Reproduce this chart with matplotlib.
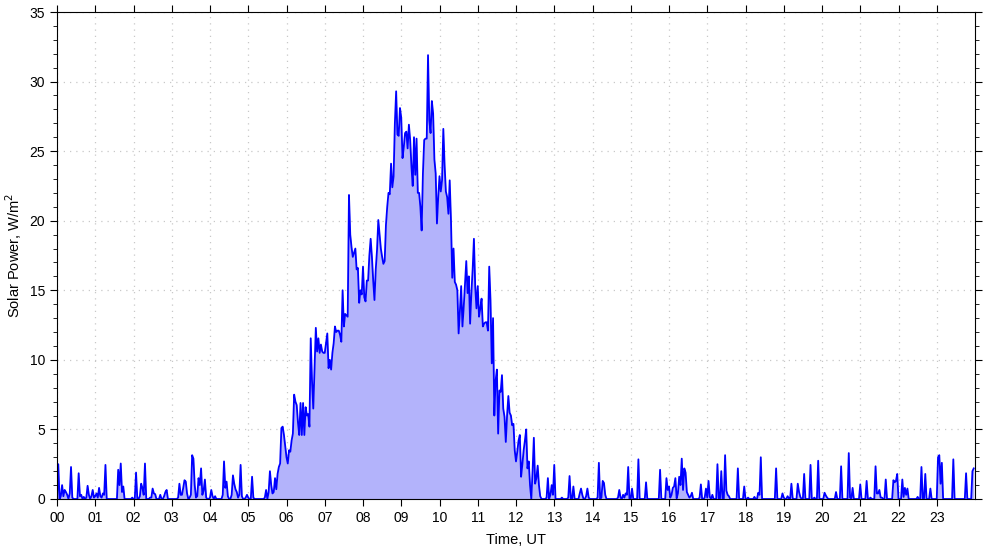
import numpy as np
import matplotlib
matplotlib.use('Agg')
import matplotlib.pyplot as plt
from matplotlib.ticker import MultipleLocator

plt.rcParams['font.family'] = ['Liberation Sans', 'DejaVu Sans']
plt.rcParams['font.size'] = 10

# === Datos: potencia solar cada 2 minutos (W/m2), una fila por hora UT ===
potencia = [
    # 00
    0, 2.5, 0, 0.2, 1.0, 0.2, 0.65, 0.5, 0.3, 0, 0.4, 2.3, 0.1, 0, 0, 0, 0, 1.85, 0.2, 0.3,
    0, 0.15, 0, 0.1, 0.95, 0.3, 0, 0.2, 0.65, 0.1,
    # 01
    0.2, 0.4, 0.1, 0.8, 0.2, 0.1, 0.4, 0.3, 2.45, 0, 0, 0, 0, 0, 0, 0, 0, 0, 2.1, 1.0,
    2.55, 0.5, 0.9, 0, 0, 0, 0, 0, 0, 0.1,
    # 02
    0, 0, 1.9, 0, 0, 0.2, 1.1, 0.8, 0.3, 2.55, 0, 0, 0, 0.1, 0.1, 0.75, 0.4, 0.35, 0, 0,
    0, 0.3, 0, 0, 0.2, 0.5, 0.65, 0, 0, 0,
    # 03
    0, 0, 0, 0, 0, 0.1, 1.1, 0.3, 0.3, 0.8, 1.35, 1.25, 0.4, 0, 0.1, 0.3, 3.15, 2.9, 1.0, 0.1,
    0.2, 1.5, 1.0, 2.2, 0.3, 0.6, 1.4, 0.1, 0, 0,
    # 04
    0.1, 0.65, 0.2, 0, 0.2, 0, 0, 0, 0, 0, 0.3, 2.7, 0.8, 1.25, 0.2, 0, 0, 0.3, 1.7, 1.1,
    0.7, 0.5, 0.1, 0.3, 2.45, 0.2, 0, 0, 0.1, 0.3,
    # 05
    0.1, 0, 0, 1.6, 0.1, 0, 0, 0, 0, 0, 0, 0, 0, 0.1, 0.65, 0, 0.5, 2.0, 1.0, 0.4,
    0.5, 1.5, 0.7, 1.8, 2.3, 2.55, 5.1, 5.2, 4.6, 3.8,
    # 06
    3.0, 2.55, 3.5, 3.4, 4.2, 4.7, 7.5, 7.0, 6.75, 5.5, 4.6, 6.9, 4.6, 6.9, 4.6, 6.6, 6.0, 6.1, 5.2, 11.55,
    8.5, 6.5, 9.5, 12.3, 10.6, 11.55, 10.5, 11.1, 10.6, 10.5,
    # 07
    10.5, 11.2, 11.9, 9.4, 10.0, 9.3, 10.5, 11.2, 12.4, 12.0, 12.1, 12.1, 11.8, 11.3, 15.0, 12.4, 13.3, 13.2, 13.1, 21.85,
    19.0, 18.1, 17.4, 17.7, 18.0, 16.5, 16.6, 14.1, 15.0, 14.7,
    # 08
    16.7, 14.5, 14.2, 15.7, 15.7, 17.5, 18.7, 17.4, 15.7, 14.3, 16.5, 17.9, 20.05, 19.0, 18.0, 17.4, 16.9, 17.1, 19.7, 21.0,
    22.0, 21.9, 24.1, 22.4, 23.2, 27.0, 29.3, 26.2, 26.1, 28.1,
    # 09
    27.4, 24.5, 25.3, 26.3, 26.4, 25.2, 26.9, 25.8, 23.9, 22.5, 26.0, 23.3, 25.9, 22.0, 22.0, 21.0, 19.3, 23.4, 25.8, 25.9,
    25.9, 31.9, 27.2, 26.3, 28.6, 27.7, 24.4, 23.4, 19.8, 21.7,
    # 10
    23.2, 22.1, 22.9, 26.6, 24.0, 22.1, 21.7, 20.5, 22.9, 20.05, 15.9, 18.0, 15.6, 15.4, 15.0, 11.9, 13.5, 15.3, 12.4, 13.8,
    15.5, 17.1, 14.8, 16.0, 12.6, 14.8, 16.5, 18.7, 15.3, 13.7,
    # 11
    15.3, 13.1, 13.7, 14.4, 12.4, 12.6, 12.7, 12.7, 12.1, 16.7, 14.3, 9.75, 13.0, 6.0, 8.5, 9.3, 4.7, 7.8, 7.7, 8.9,
    6.5, 5.9, 4.1, 6.0, 7.4, 6.2, 6.0, 5.3, 5.4, 3.5,
    # 12
    2.7, 3.4, 4.2, 4.6, 1.6, 2.5, 3.5, 4.2, 5.0, 2.2, 2.7, 1.0, 0, 2.0, 4.4, 1.1, 1.5, 2.4, 1.0, 0.2,
    0, 0, 0, 0, 0.1, 1.5, 0, 0.3, 1.0, 0.3,
    # 13
    2.45, 0, 0, 0, 0, 0, 0.1, 0, 0, 0, 0, 0.1, 1.65, 0, 0, 0.9, 0, 0, 0, 0,
    0.4, 0.75, 0.3, 0, 0, 0.2, 0.75, 0.1, 0, 0,
    # 14
    0, 0, 0, 0, 0.1, 2.6, 0, 0.1, 1.3, 1.15, 0.3, 0, 0, 0, 0, 0, 0, 0, 0, 0,
    0.1, 0.65, 0.1, 0, 0.3, 0.1, 0.4, 0.3, 2.3, 0,
    # 15
    0, 0.75, 0, 0, 0, 0, 2.85, 0, 0, 0, 0, 0, 1.2, 0, 0, 0, 0, 0, 0, 0,
    0, 0, 0, 2.1, 0, 0, 0, 0, 1.5, 0.65,
    # 16
    0.9, 0.1, 0.3, 0.8, 0.9, 1.5, 0.05, 0.4, 1.6, 1.0, 2.9, 0.65, 2.2, 1.9, 0.5, 0.3, 0.1, 0.2, 0.45, 0,
    0, 0, 0, 0, 0.1, 1.05, 0, 0, 0.1, 0.75,
    # 17
    0.1, 1.3, 0.15, 0, 0.3, 0, 0, 0, 2.5, 0, 0, 2.0, 0, 0, 3.15, 0.6, 0.3, 0.2, 0, 0,
    0, 0, 0, 0, 2.2, 0, 0, 0, 0, 0.9,
    # 18
    0, 0, 0.1, 0, 0, 0, 0, 0.15, 0, 0, 0.45, 0.3, 3.0, 0, 0, 0, 0, 0, 0, 0,
    0, 0, 0, 0, 2.2, 0, 0, 0, 0, 0.4,
    # 19
    0.1, 0, 0, 0.2, 0.05, 0, 1.1, 0.05, 0, 0, 0, 1.1, 0.5, 0.15, 0, 0, 1.8, 0, 0, 0,
    0, 2.45, 0, 0, 0.1, 0, 0, 2.75, 0, 0,
    # 20
    0, 0, 0.45, 0.25, 0.1, 0, 0, 0, 0, 0, 0, 0.5, 0, 0, 0, 2.35, 0, 0, 0, 0,
    0, 3.3, 0.1, 0, 0.8, 0, 0, 0, 0, 0,
    # 21
    1.05, 0, 0, 0, 0, 1.3, 0, 0, 0.1, 0, 0, 0, 2.35, 0.4, 0.4, 0.65, 0.1, 0.1, 0, 0,
    1.4, 0, 0, 0, 0, 0, 1.35, 1.2, 1.3, 1.8,
    # 22
    0, 0, 0, 1.4, 0.15, 0.8, 0.3, 0.75, 0, 0, 0, 0, 0, 0, 0, 0.15, 0, 0, 2.3, 0,
    0, 1.8, 0, 0, 0, 0.75, 0, 0, 0, 0,
    # 23
    0, 3.0, 3.15, 1.1, 2.6, 0, 0, 0, 0, 0, 0, 0, 0, 2.85, 0, 0, 0, 0, 0, 0,
    0, 0, 0, 1.85, 0, 0, 0, 0, 2.0, 2.2,
]
assert len(potencia) == 720

horas_ticks = list(range(24))
etiquetas_x = [f"{h:02d}" for h in horas_ticks]

# eje de tiempo en horas (muestreo de 2 min)
t = np.arange(len(potencia)) * 2 / 60.0

# === Graficar ===
fig = plt.figure(figsize=(9.85, 5.47), dpi=100)
ax = fig.add_axes([57 / 985, 1 - 499 / 547, 918 / 985, 487 / 547])

ax.fill_between(t, potencia, 0, color='#b3b3fb', linewidth=0)
ax.plot(t, potencia, color='#0000ff', linewidth=1.3)

ax.set_xlim(0, 24)
ax.set_ylim(0, 35)
ax.set_xticks(horas_ticks, etiquetas_x)
ax.yaxis.set_major_locator(MultipleLocator(5))
ax.yaxis.set_minor_locator(MultipleLocator(1))

ax.tick_params(which='both', direction='out', top=True, right=True, labelsize=10)
ax.tick_params(which='major', length=5)
ax.tick_params(which='minor', length=3)

ax.grid(True, which='major', linestyle=(0, (1, 4)), color='#c8c8c8', linewidth=0.9)
ax.set_axisbelow(True)

ax.set_xlabel('Time, UT', fontsize=10.5, labelpad=6)
ax.set_ylabel('Solar Power, W/m$^2$', fontsize=10.5)

fig.savefig('out.png', dpi=100)
